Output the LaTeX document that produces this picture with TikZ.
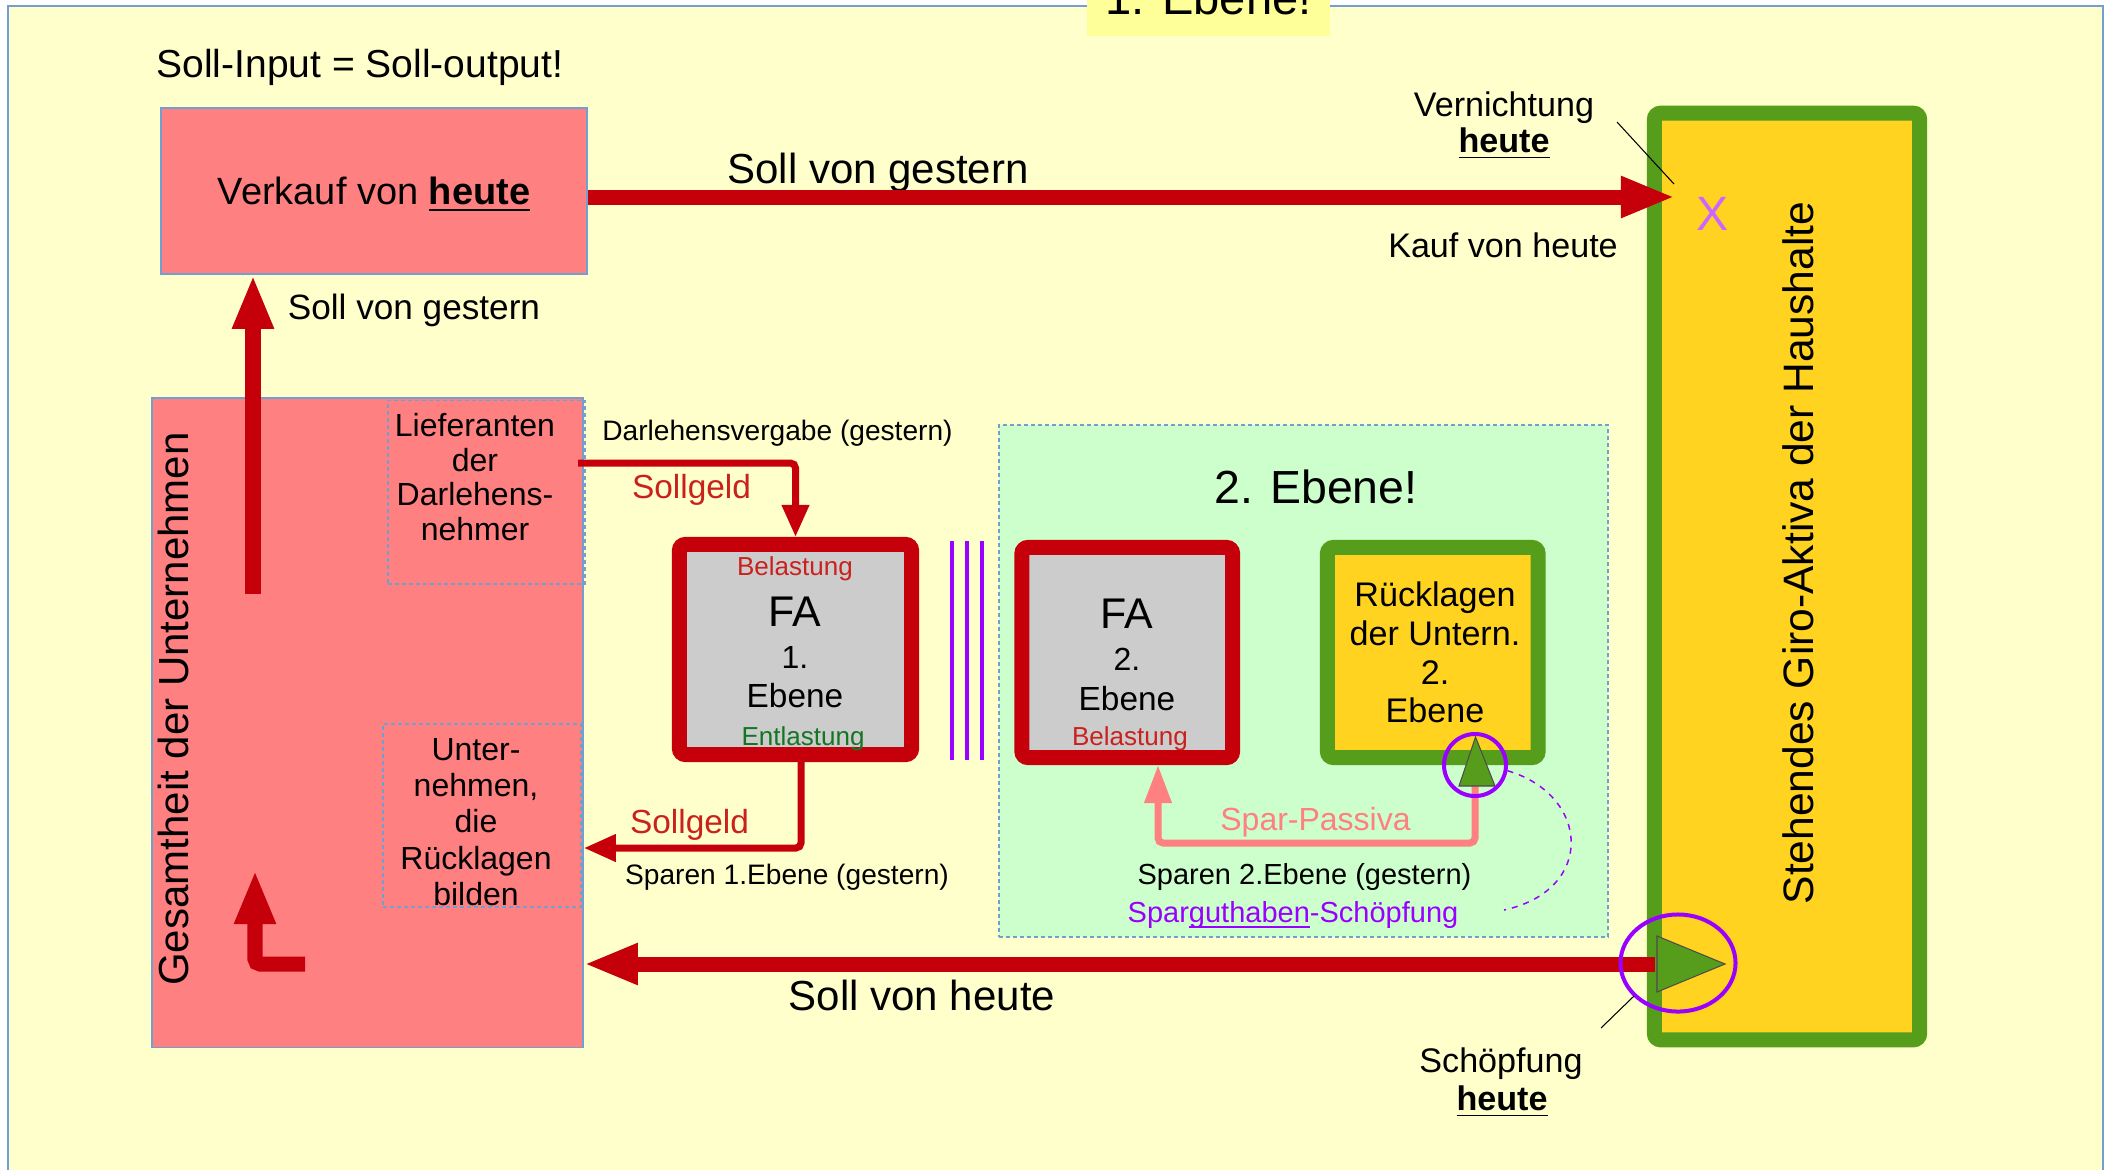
\documentclass[tikz,border=0pt]{standalone}
\usepackage{fontspec}
\setmainfont{Liberation Sans}
\usepackage{tikz}
\usetikzlibrary{arrows.meta,shapes.geometric}

\definecolor{bgyellow}{HTML}{FFFFCC}
\definecolor{tagyellow}{HTML}{FFFF99}
\definecolor{salmon}{HTML}{FF8080}
\definecolor{darkred}{HTML}{C5000B}
\definecolor{textred}{HTML}{C9211E}
\definecolor{leafgreen}{HTML}{579D1C}
\definecolor{gold}{HTML}{FFD320}
\definecolor{mint}{HTML}{CCFFCC}
\definecolor{frameblue}{HTML}{729FCF}
\definecolor{sparviolet}{HTML}{9900FF}
\definecolor{xviolet}{HTML}{CC66FF}
\definecolor{entgreen}{HTML}{127622}
\definecolor{fagray}{HTML}{CCCCCC}

\newcommand{\fsz}[2]{\fontsize{#1}{#2}\selectfont}

\begin{document}
\begin{tikzpicture}[x=0.01cm,y=-0.01cm,
  every node/.style={font=\fsz{9.7}{11},inner sep=0pt},
  pinkbox/.style={draw=frameblue,fill=salmon,line width=0.4pt},
  dashbox/.style={draw=frameblue,line width=0.4pt,dash pattern=on 0.4mm off 0.3mm},
  redbox/.style={draw=darkred,fill=fagray,line width=1.5mm,rounded corners=0.6mm},
  greenbox/.style={draw=leafgreen,fill=gold,line width=1.5mm,rounded corners=0.6mm},
  bigarrow/.style={darkred,line width=1.5mm,-{Triangle[length=5.4mm,width=3.8mm]}},
  thinarrow/.style={darkred,line width=0.7mm,rounded corners=0.5mm,-{Triangle[length=3.2mm,width=2.6mm]}},
  pinkarrow/.style={salmon,line width=0.7mm,rounded corners=0.5mm,-{Triangle[length=3.8mm,width=2.6mm]}},
  ring/.style={draw=sparviolet,line width=0.4mm},
  tri/.style={fill=leafgreen,draw=black!70,line width=0.3pt},
  pointer/.style={black,line width=0.3pt}]
\useasboundingbox (0,0) rectangle (2109,1169);
\filldraw[fill=bgyellow,draw=frameblue,line width=0.4pt] (8,6) rectangle (2103,1200);
\node[fill=tagyellow,minimum width=2.43cm,minimum height=0.76cm,font=\fsz{13.4}{15}] (ebene1) at (1208.5,-2) {1. Ebene!};
\node[anchor=base,font=\fsz{11.1}{12}] (sollio) at (360,77) {Soll-Input = Soll-output!};

\node[pinkbox,minimum width=4.26cm,minimum height=1.66cm,text depth=0pt,font=\fsz{10.8}{12}] (verkauf) at (374,191) {Verkauf von \underline{\textbf{heute}}};
\node[pinkbox,minimum width=4.31cm,minimum height=6.49cm] (unternehmen) at (367.5,722.5) {};
\node[rotate=90,font=\fsz{11.95}{13}] (gesamt) at (173,709) {Gesamtheit der Unternehmen};
\node[dashbox,minimum width=1.97cm,minimum height=1.835cm] (liefbox) at (486.5,492.25) {};
\node[anchor=base,align=center,font=\fsz{9.1}{9.8}] (lieftxt) at (475,540) {Lieferanten\\der\\Darlehens-\\nehmer};
\node[dashbox,minimum width=1.98cm,minimum height=1.83cm] (unterbox) at (482,815.5) {};
\node[anchor=base,align=center,font=\fsz{9.1}{10.24}] (untertxt) at (476,905) {Unter-\\nehmen,\\die\\Rücklagen\\bilden};

\node[greenbox,minimum width=2.65cm,minimum height=9.26cm] (giro) at (1787,576.5) {};
\node[rotate=90,font=\fsz{12.1}{13}] (girotxt) at (1798,553) {Stehendes Giro-Aktiva der Haushalte};
\node[anchor=base,text=xviolet,font=\fsz{13.7}{15}] (xmark) at (1713,230) {X};
\node[anchor=base] (vern) at (1504,116) {Vernichtung};
\node[anchor=base] (vernheute) at (1504,152) {\underline{\textbf{heute}}};
\node[anchor=base] (kauf) at (1503,257) {Kauf von heute};
\node[anchor=base,font=\fsz{11.95}{13}] (sgtop) at (878,183) {Soll von gestern};
\node[anchor=base,font=\fsz{10}{11}] (sgleft) at (414,319) {Soll von gestern};

\node[redbox,minimum width=2.32cm,minimum height=2.10cm] (fa1) at (795.5,649.5) {};
\node[anchor=base,text=textred,font=\fsz{7.4}{8}] (fa1bel) at (795,575) {Belastung};
\node[anchor=base,font=\fsz{12.2}{13}] (fa1fa) at (795,626) {FA};
\node[anchor=base,font=\fsz{9.1}{10}] (fa1num) at (795,668) {1.};
\node[anchor=base,font=\fsz{9.5}{10}] (fa1eb) at (795,707) {Ebene};
\node[anchor=base,text=entgreen,font=\fsz{7.4}{8}] (fa1ent) at (803,745) {Entlastung};
\node[anchor=base,font=\fsz{8}{9}] (darl) at (777.5,440) {Darlehensvergabe (gestern)};
\node[anchor=base,text=textred,font=\fsz{9.5}{10}] (sollgA) at (691.5,498) {Sollgeld};
\node[anchor=base,text=textred,font=\fsz{9.5}{10}] (sollgB) at (689.5,833) {Sollgeld};
\node[anchor=base,font=\fsz{8}{9}] (spar1) at (787,884) {Sparen 1.Ebene (gestern)};
\foreach \x in {952,967,982}
  \draw[sparviolet,line width=0.35mm] (\x,541) -- (\x,760);

\node[dashbox,fill=mint,minimum width=6.09cm,minimum height=5.12cm] (ebene2) at (1303.5,681) {};
\node[anchor=base,font=\fsz{13.2}{14}] (eb2title) at (1316,503) {2. Ebene!};
\node[redbox,minimum width=2.105cm,minimum height=2.10cm] (fa2) at (1127.25,652.5) {};
\node[anchor=base,font=\fsz{12.2}{13}] (fa2fa) at (1127,628) {FA};
\node[anchor=base,font=\fsz{9.1}{10}] (fa2num) at (1127,670) {2.};
\node[anchor=base,font=\fsz{9.5}{10}] (fa2eb) at (1127,710) {Ebene};
\node[anchor=base,text=textred,font=\fsz{7.4}{8}] (fa2bel) at (1130,745) {Belastung};
\node[greenbox,minimum width=2.105cm,minimum height=2.10cm] (rueckbox) at (1432.75,652.5) {};
\node[anchor=base,align=center,font=\fsz{9.7}{10.95}] (rueck) at (1435,722.5) {Rücklagen\\der Untern.\\2.\\Ebene};
\node[anchor=base,text=salmon,font=\fsz{9.1}{10}] (sparpass) at (1315.5,830) {Spar-Passiva};
\node[anchor=base,font=\fsz{8.25}{9}] (spar2) at (1304.5,884) {Sparen 2.Ebene (gestern)};
\node[anchor=base,text=sparviolet,font=\fsz{8.25}{9}] (sgschoepf) at (1293,922) {Spar\underline{\smash{guthaben}}-Schöpfung};

\coordinate (vernicht) at (1675,197);
\coordinate (upfoot) at (253,594);
\coordinate (lfoot) at (305,964);
\coordinate (ltip) at (255,870);
\coordinate (darlfoot) at (578,463);
\coordinate (sparfoot) at (801,848);
\coordinate (sparA) at (1475,786);
\coordinate (sparB) at (1158,843);
\coordinate (sollH) at (1655,964);
\coordinate (curveend) at (1504,910);

\draw[bigarrow] (verkauf.east |- vernicht) -- (vernicht);
\draw[bigarrow] (upfoot) -- (upfoot |- verkauf.south);
\draw[bigarrow,rounded corners=0.5mm] (lfoot) -- (ltip |- lfoot) -- (ltip);
\draw[thinarrow] (darlfoot) -- (darlfoot -| fa1.north) -- (fa1.north);
\draw[thinarrow] (sparfoot |- fa1.south) -- (sparfoot) -- (sparfoot -| unternehmen.east);
\draw[pinkarrow] (sparA) -- (sparA |- sparB) -- (sparB) -- (sparB |- fa2.south);
\draw[bigarrow] (sollH) -- (unternehmen.east |- sollH);
\node[anchor=base,font=\fsz{11.95}{13}] (sollheute) at (922,1010) {Soll von heute};

\filldraw[tri] (1459,786) -- (1475.5,737) -- (1495,786) -- cycle;
\node[ring,circle,minimum size=0.62cm] (ringA) at (1475,765) {};
\draw[sparviolet,line width=0.15mm,dash pattern=on 0.6mm off 0.6mm] (ringA.-10) .. controls (1590,795) and (1596,890) .. (curveend);
\filldraw[tri] (1657,936) -- (1725,964) -- (1657,992) -- cycle;
\node[ring,ellipse,minimum width=1.15cm,minimum height=0.97cm] (ringB) at (1678,963) {};

\draw[pointer] (1617,122) -- (1674,184);
\draw[pointer] (1634,996) -- (1601,1028);
\node[anchor=base] (schoepf) at (1501,1072) {Schöpfung};
\node[anchor=base] (schoepfheute) at (1502,1110) {\underline{\textbf{heute}}};
\end{tikzpicture}
\end{document}
